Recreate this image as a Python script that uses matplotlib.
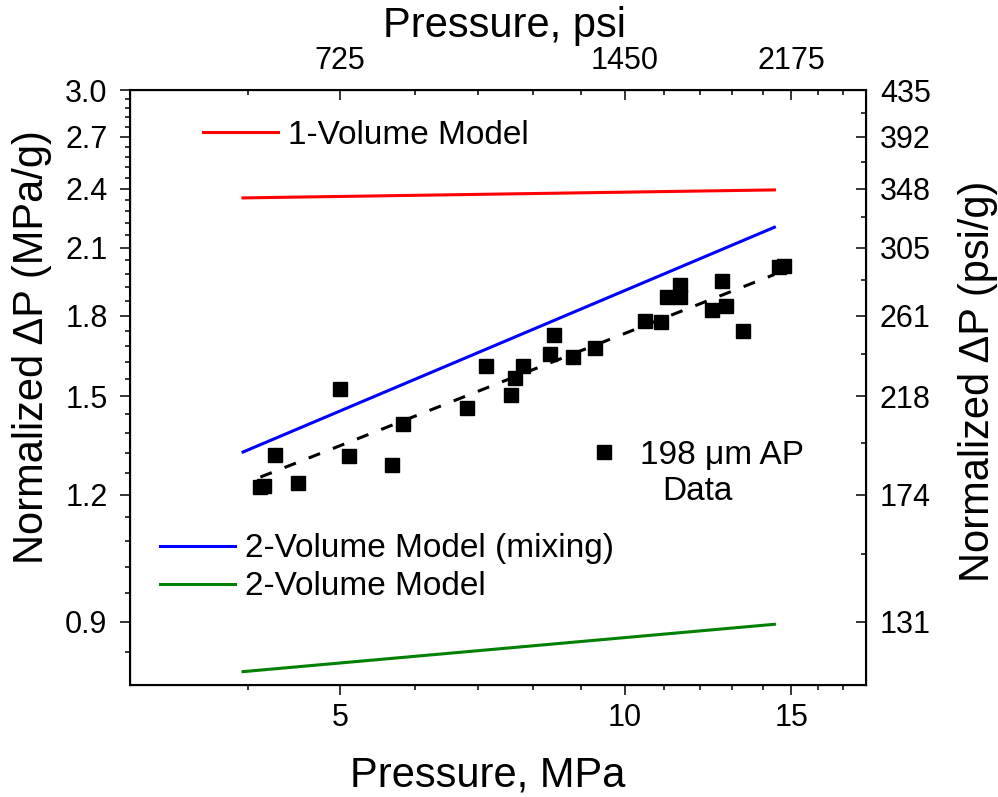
import matplotlib
matplotlib.use("Agg")
import matplotlib.pyplot as plt
from matplotlib.lines import Line2D
from matplotlib.ticker import FixedLocator, NullFormatter

plt.rcParams["font.family"] = ["Liberation Sans", "DejaVu Sans"]

# measured data (MPa, MPa/g)
p_data = [4.12, 4.16, 4.27, 4.51, 5.00, 5.11, 5.67, 5.83, 6.81, 7.13, 7.58, 7.66,
          7.80, 8.34, 8.42, 8.82, 9.30, 10.51, 10.92, 11.08, 11.44, 11.44, 12.37,
          12.67, 12.80, 13.33, 14.56, 14.73]
dp_data = [1.222, 1.225, 1.312, 1.233, 1.523, 1.309, 1.285, 1.410, 1.459, 1.605,
           1.503, 1.562, 1.605, 1.650, 1.722, 1.638, 1.672, 1.778, 1.773, 1.877,
           1.929, 1.877, 1.822, 1.946, 1.839, 1.738, 2.009, 2.014]

# model curves (end points)
p_model = [3.95, 14.4]
dp_one_vol = [2.350, 2.393]
dp_two_vol_mix = [1.322, 2.199]
dp_two_vol = [0.804, 0.895]

# power-law fit through data
p_fit = [4.12, 14.4]
dp_fit = [1.249, 1.976]

# axis ticks
x_major = [5, 10, 15]
x_minor = [4, 6, 7, 8, 9, 11, 12, 13, 14, 16, 17]
psi_labels = ["725", "1450", "2175"]
y_major = [0.9, 1.2, 1.5, 1.8, 2.1, 2.4, 2.7, 3.0]
y_minor = [round(0.84 + 0.06 * i, 2) for i in range(36)]
y_minor = [v for v in y_minor if v not in y_major]
psi_g_labels = ["131", "174", "218", "261", "305", "348", "392", "435"]
y_minor_right = [0.75 + 0.3 * i for i in range(1, 8)]

fig = plt.figure(figsize=(9.98, 7.97), dpi=100)
ax = fig.add_axes([0.1303, 0.1405, 0.7375, 0.7465])

ax.plot(p_model, dp_one_vol, color="#FF0000", lw=2.2)
ax.plot(p_model, dp_two_vol_mix, color="#0000FF", lw=2.2)
ax.plot(p_model, dp_two_vol, color="#008000", lw=2.2)
ax.plot(p_fit, dp_fit, color="black", lw=2.2, dashes=(4, 4.5))
ax.plot(p_data, dp_data, "s", color="black", ms=9.5, mec="black")

ax.set_xscale("log")
ax.set_yscale("log")
ax.set_xlim(3, 18)
ax.set_ylim(0.78, 3.0)

ax.xaxis.set_major_locator(FixedLocator(x_major))
ax.xaxis.set_minor_locator(FixedLocator(x_minor))
ax.set_xticklabels([str(v) for v in x_major])
ax.xaxis.set_minor_formatter(NullFormatter())
ax.yaxis.set_major_locator(FixedLocator(y_major))
ax.yaxis.set_minor_locator(FixedLocator(y_minor))
ax.set_yticklabels([f"{v:.1f}" for v in y_major])
ax.yaxis.set_minor_formatter(NullFormatter())

ax.tick_params(which="major", direction="out", length=7.2, width=1.1, labelsize=22)
ax.tick_params(which="minor", direction="out", length=3.6, width=1.1)
ax.tick_params(axis="x", which="major", pad=6)
ax.tick_params(axis="y", which="major", pad=9)
for s in ax.spines.values():
    s.set_linewidth(1.5)

ax.set_xlabel("Pressure, MPa", fontsize=30)
ax.set_ylabel("Normalized \u0394P (MPa/g)", fontsize=30)
ax.xaxis.set_label_coords(0.486, -0.118)
ax.yaxis.set_label_coords(-0.106, 0.568)

# top axis in psi
axt = ax.twiny()
axt.set_xscale("log")
axt.set_xlim(ax.get_xlim())
axt.xaxis.set_major_locator(FixedLocator(x_major))
axt.xaxis.set_minor_locator(FixedLocator(x_minor))
axt.set_xticklabels(psi_labels)
axt.xaxis.set_minor_formatter(NullFormatter())
axt.tick_params(which="major", direction="in", length=7.2, width=1.1, labelsize=22, pad=10)
axt.tick_params(which="minor", direction="in", length=3.6, width=1.1)
axt.set_xlabel("Pressure, psi", fontsize=30)
axt.xaxis.set_label_coords(0.508, 1.09)

# right axis in psi/g
axr = ax.twinx()
axr.set_yscale("log")
axr.set_ylim(ax.get_ylim())
axr.yaxis.set_major_locator(FixedLocator(y_major))
axr.yaxis.set_minor_locator(FixedLocator(y_minor_right))
axr.set_yticklabels(psi_g_labels)
axr.yaxis.set_minor_formatter(NullFormatter())
axr.tick_params(which="major", direction="in", length=7.2, width=1.1, labelsize=22, pad=10)
axr.tick_params(which="minor", direction="in", length=3.6, width=1.1)
axr.set_ylabel("Normalized \u0394P (psi/g)", fontsize=30)
axr.yaxis.set_label_coords(1.125, 0.51)

# legends
h1 = [Line2D([], [], color="#FF0000", lw=2.2)]
leg1 = fig.legend(h1, ["1-Volume Model"], loc="upper left", bbox_to_anchor=(0.2034, 0.8495),
                  frameon=False, fontsize=24, handlelength=2.25, handletextpad=0.3,
                  borderpad=0, borderaxespad=0)
h2 = [Line2D([], [], color="#0000FF", lw=2.2), Line2D([], [], color="#008000", lw=2.2)]
leg2 = fig.legend(h2, ["2-Volume Model (mixing)", "2-Volume Model"], loc="upper left",
                  bbox_to_anchor=(0.1603, 0.331), frameon=False, fontsize=24,
                  handlelength=2.25, handletextpad=0.3, labelspacing=0.21,
                  borderpad=0, borderaxespad=0)
h3 = [Line2D([], [], ls="none", marker="s", color="black", ms=9.5)]
leg3 = fig.legend(h3, ["198 \u03bcm AP"], loc="upper left", bbox_to_anchor=(0.589, 0.448),
                  frameon=False, fontsize=24, handlelength=1.0, handletextpad=0.57,
                  borderpad=0, borderaxespad=0)
fig.text(662 / 998, 1 - 492 / 797, "Data", fontsize=24, ha="left", va="center")

fig.savefig("out.png", dpi=100)
